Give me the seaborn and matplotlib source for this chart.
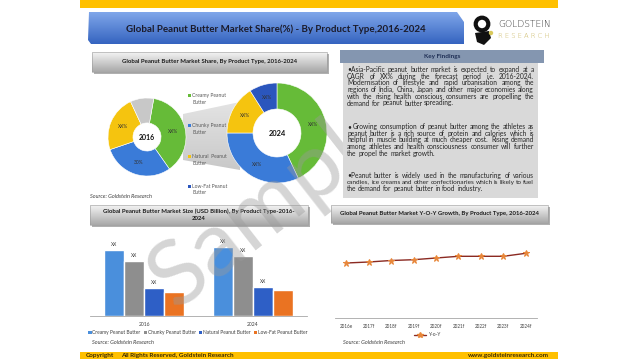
import numpy as np
import pandas as pd
import matplotlib
matplotlib.use("Agg")
import matplotlib.pyplot as plt
from matplotlib.patches import Polygon, Rectangle
from matplotlib.lines import Line2D
import matplotlib.colors as mcolors
import seaborn as sns

sns.set_style("white")
plt.rcParams['font.family'] = ['Lato', 'DejaVu Sans']

# ---------------- data ----------------
types = ["Creamy Peanut Butter", "Chunky Peanut Butter", "Natural Peanut Butter", "Low-Fat Peanut Butter"]
share_2016 = [37.5, 29.5, 23.3, 9.7]
share_2016_labels = ["XX%", "30%", "XX%", ""]
share_2024 = [43.0, 32.0, 16.0, 9.0]
share_2024_labels = ["XX%", "XX%", "XX%", "XX%"]

bar_years = ["2016", "2024"]
size_2016 = [6.6, 5.5, 2.8, 2.4]
size_2024 = [6.9, 6.0, 2.9, 2.6]
bar_labels = ["XX", "XX", "XX", ""]

yoy_years = ["2016e", "2017f", "2018f", "2019f", "2020f", "2021f", "2022f", "2023f", "2024f"]
yoy_values = [5.5, 5.6, 5.75, 5.83, 6.0, 6.17, 6.17, 6.17, 6.47]

title = "Global Peanut Butter Market Share(%) - By Product Type,2016-2024"
donut_title = "Global Peanut Butter Market Share, By Product Type, 2016-2024"
bar_title = ["Global Peanut Butter Market Size (USD Billion), By Product Type-2016-", "2024"]
line_title = "Global Peanut Butter Market Y-O-Y Growth, By Product Type, 2016-2024"
source = "Source: Goldstein Research"

findings = [
    ["\u2022Asia-Pacific peanut butter market is expected to expand at a",
     "CAGR of XX% during the forecast period i.e. 2016-2024.",
     "Modernisation of lifestyle and rapid urbanisation among the",
     "regions of India, China, Japan and other major economies along",
     "with the rising health conscious consumers are propelling the",
     "demand for peanut butter spreading."],
    ["\u2022 Growing consumption of peanut butter among the athletes as",
     "peanut butter is a rich source of protein and calories which is",
     "helpful in muscle building at much cheaper cost. Rising demand",
     "among athletes and health consciousness consumer will further",
     "the propel the market growth."],
    ["\u2022Peanut butter is widely used in the manufacturing of various",
     "candies, ice creams and other confectionaries which is likely to fuel",
     "the demand for peanut butter in food industry."],
]

# ---------------- styles ----------------
W, H = 638, 359
GREEN = "#66bb38"
BLUE = "#3a7bd8"
YELLOW = "#f5c40f"
GRAY = "#c8c8c8"
DKBLUE = "#2b56bd"
donut16_colors = [GREEN, BLUE, YELLOW, GRAY]
donut24_colors = [GREEN, BLUE, YELLOW, DKBLUE]
bar_colors = ["#4a8fdc", "#8e8e8e", "#2e5fc6", "#ea7322"]
legend_colors = [GREEN, BLUE, YELLOW, DKBLUE]

fig = plt.figure(figsize=(W / 100, H / 100), dpi=100)


def fax(x0, y0, x1, y1, z=1):
    a = fig.add_axes([x0 / W, 1 - y1 / H, (x1 - x0) / W, (y1 - y0) / H])
    a.set_zorder(z)
    return a


def overlay(z):
    a = fax(0, 0, W, H, z=z)
    a.set_xlim(0, W)
    a.set_ylim(H, 0)
    a.axis("off")
    a.patch.set_alpha(0)
    return a


bg = overlay(0)


def grad(ax, x0, y0, x1, y1, ctop, cbot, clip=None, z=1):
    c1 = np.array(mcolors.to_rgb(ctop))
    c2 = np.array(mcolors.to_rgb(cbot))
    t = np.linspace(0, 1, 64)
    arr = (c1[None, :] * (1 - t[:, None]) + c2[None, :] * t[:, None])[:, None, :]
    im = ax.imshow(arr, extent=(x0, x1, y1, y0), origin="upper", aspect="auto", zorder=z,
                   interpolation="bilinear")
    if clip is not None:
        p = Polygon(clip, closed=True, transform=ax.transData, facecolor="none", edgecolor="none")
        ax.add_patch(p)
        im.set_clip_path(p)
    ax.set_xlim(0, W)
    ax.set_ylim(H, 0)
    return im


# top & bottom yellow bands
bg.add_patch(Rectangle((80, 0), 478, 7.5, facecolor="#ffc000", edgecolor="none", zorder=1))
bg.add_patch(Rectangle((80, 352), 478, 7, facecolor="#ffc000", edgecolor="none", zorder=1))
bg.text(86, 356, "Copyright", fontsize=4.6, fontweight="bold", color="#3a2a00", va="center", zorder=3)
bg.text(121, 356, "All Rights Reserved, Goldstein Research", fontsize=4.6, fontweight="bold",
        color="#3a2a00", va="center", zorder=3)
bg.text(549, 356, "www.goldsteinresearch.com", fontsize=4.6, fontweight="bold",
        color="#3a2a00", va="center", ha="right", zorder=3)

# title banner
banner = [(89, 12), (457, 12), (464, 22), (464, 44), (91, 44), (88, 40)]
grad(bg, 88, 12, 464, 44, "#7fa6ea", "#3564c0", clip=banner, z=1)
bg.text(276, 29, title, fontsize=7.0, fontweight="bold", color="#1b1b2a", ha="center", va="center", zorder=3)

# logo
bg.add_patch(plt.Circle((482, 24), 6.3, facecolor="none", edgecolor="#111111", linewidth=3.0, zorder=3))
bg.add_patch(Polygon([(475, 33), (489, 31), (491, 38), (484, 45), (477, 42)], closed=True,
                     facecolor="#111111", edgecolor="none", zorder=3))
bg.add_patch(plt.Circle((491, 33), 2.2, facecolor="#d8c85a", edgecolor="none", zorder=4))
bg.text(498, 24.5, "GOLDSTEIN", fontsize=6.6, color="#333333", va="center", ha="left", zorder=3,
        family=["DejaVu Sans"], fontweight="light")
bg.text(498, 35.5, "R E S E A R C H", fontsize=4.9, color="#c8b45a", va="center", ha="left", zorder=3,
        family=["DejaVu Sans"], fontweight="light")


def header(x0, y0, x1, y1, lines, fs=4.3):
    bg.add_patch(Rectangle((x0 + 2, y0 + 2), x1 - x0, y1 - y0, facecolor="#b0b0b0", edgecolor="none", zorder=1))
    grad(bg, x0, y0, x1, y1, "#f4f4f4", "#a8a8a8", clip=[(x0, y0), (x1, y0), (x1, y1), (x0, y1)], z=1.5)
    bg.add_patch(Rectangle((x0, y0), x1 - x0, y1 - y0, facecolor="none", edgecolor="#9a9a9a", linewidth=0.4, zorder=2))
    n = len(lines)
    cy = (y0 + y1) / 2
    for i, l in enumerate(lines):
        bg.text((x0 + x1) / 2, cy + (i - (n - 1) / 2) * 7.5, l, fontsize=fs, fontweight="bold",
                color="#1a1a1a", ha="center", va="center", zorder=3)


header(92, 52, 327, 72, [donut_title])
header(90, 205, 308, 225, bar_title)
header(331, 205, 548, 223, [line_title])

# funnel shape between donuts
grad(bg, 183, 100, 240, 172, "#e4e4e4", "#c8c8c8",
     clip=[(183, 114), (240, 102), (240, 170), (183, 160)], z=1)

# donut legend
leg_y = [(95, 102.5), (125, 132.5), (156, 163.5), (186, 193)]
leg_names = [("Creamy Peanut", "Butter"), ("Chunky Peanut", "Butter"), ("Natural  Peanut", "Butter"),
             ("Low-Fat Peanut", "Butter")]
for (y1_, y2_), (n1, n2), c in zip(leg_y, leg_names, legend_colors):
    bg.add_patch(Rectangle((187.5, y1_ - 1.5), 3, 3, facecolor=c, edgecolor="none", zorder=3))
    bg.text(192.5, y1_, n1, fontsize=3.6, color="#595959", va="center", zorder=3)
    bg.text(192.5, y2_, n2, fontsize=3.6, color="#595959", va="center", zorder=3)

bg.text(90, 197, source, fontsize=4.0, style="italic", color="#404040", va="center", zorder=3)
bg.text(92, 343, source, fontsize=4.0, style="italic", color="#404040", va="center", zorder=3)
bg.text(343, 343, source, fontsize=4.0, style="italic", color="#404040", va="center", zorder=3)


# ---------------- donuts ----------------
def donut(cx, cy, r, vals, cols, labels, start, hole, center_label, fs):
    a = fax(cx - r, cy - r, cx + r, cy + r, z=2)
    wedges, texts = a.pie(vals, colors=cols, startangle=start, counterclock=False, radius=1,
                          labels=labels, labeldistance=(1 + hole) / 2,
                          wedgeprops=dict(width=1 - hole, edgecolor="white", linewidth=0.4),
                          textprops=dict(fontsize=3.5, color="#333333"))
    for t in texts:
        t.set_ha("center")
        t.set_va("center")
    a.set_xlim(-1, 1)
    a.set_ylim(-1, 1)
    a.set_aspect("equal")
    a.text(0, 0, center_label, ha="center", va="center", fontsize=fs, fontweight="bold", color="#111111")
    return a


donut(147, 137, 39, share_2016, donut16_colors, share_2016_labels, 80, 0.36, "2016", 5.0)
donut(277, 133, 50, share_2024, donut24_colors, share_2024_labels, 90, 0.48, "2024", 5.4)

# ---------------- bar chart ----------------
axb = fax(90, 230, 307, 316, z=2)
df = pd.DataFrame({
    "year": [y for y in bar_years for _ in types],
    "type": types * 2,
    "value": size_2016 + size_2024,
})
sns.barplot(data=df, x="year", y="value", hue="type", hue_order=types, palette=bar_colors,
            width=0.74, saturation=1, ax=axb, legend=False, errorbar=None)
for cont, lab in zip(axb.containers, bar_labels):
    axb.bar_label(cont, labels=[lab] * len(cont), fontsize=3.5, color="#404040", padding=2)
axb.set_xlim(-0.5, 1.5)
axb.set_ylim(0, 8.6)
axb.set_xlabel("")
axb.set_ylabel("")
axb.set_yticks([])
axb.patch.set_alpha(0)
for s in ["top", "left", "right"]:
    axb.spines[s].set_visible(False)
axb.spines["bottom"].set_color("#a6a6a6")
axb.spines["bottom"].set_linewidth(0.6)
axb.tick_params(axis="x", length=0, labelsize=3.6, labelcolor="#404040", pad=4)
axb.set_xticks([-0.5, 0.5, 1.5], minor=True)
axb.tick_params(axis="x", which="minor", length=3, width=0.5, color="#a6a6a6")
handles = [Rectangle((0, 0), 1, 1, facecolor=c, edgecolor="none") for c in bar_colors]
fig.legend(handles, types, loc="center", bbox_to_anchor=(198 / W, 1 - 332.5 / H), ncol=4, frameon=False,
           fontsize=3.5, handlelength=0.7, handleheight=0.7, handletextpad=0.2, columnspacing=0.6,
           labelcolor="#404040")

# ---------------- line chart ----------------
axl = fax(335, 230, 537, 318, z=2)
dfl = pd.DataFrame({"year": yoy_years, "yoy": yoy_values, "series": "Y-o-Y"})
sns.lineplot(data=dfl, x="year", y="yoy", ax=axl, color="#8b2a22", linewidth=1.0, marker="*",
             markersize=5, markerfacecolor="#e8873a", markeredgecolor="#e8873a", sort=False)
axl.set_xlim(-0.5, 8.5)
axl.set_ylim(0, 8.8)
axl.set_xlabel("")
axl.set_ylabel("")
axl.set_yticks([])
axl.patch.set_alpha(0)
for s in ["top", "left", "right"]:
    axl.spines[s].set_visible(False)
axl.spines["bottom"].set_color("#a6a6a6")
axl.spines["bottom"].set_linewidth(0.6)
axl.tick_params(axis="x", length=0, labelsize=3.3, labelcolor="#404040", pad=4)
bg.add_line(Line2D([414, 426], [335, 335], color="#8b2a22", linewidth=1.0, zorder=3))
bg.add_line(Line2D([420], [335], color="#e8873a", marker="*", markersize=4, linestyle="none", zorder=3))
bg.text(428, 335, "Y-o-Y", fontsize=3.5, color="#404040", va="center", zorder=3)

# ---------------- watermark (below the findings box) ----------------
wm = overlay(10)
wm.text(276, 200, "Sample", fontsize=66, color="#9a9a9a", alpha=0.42, rotation=38,
        ha="center", va="center", zorder=10)

# ---------------- key findings ----------------
kf = overlay(11)
kf.add_patch(Rectangle((340, 50), 204, 13, facecolor="#8496b0", edgecolor="none", zorder=1))
kf.text(442, 56.5, "Key Findings", fontsize=4.6, fontweight="bold", color="#1f2f55", ha="center", va="center", zorder=3)
kf.add_patch(Rectangle((343, 63), 195, 135, facecolor="#d9d9d9", edgecolor="none", zorder=1))

renderer = fig.canvas.get_renderer()


def tw(ax, s, f):
    t = ax.text(0, 0, s, fontsize=f)
    w = t.get_window_extent(renderer).width
    t.remove()
    return w


def justify(ax, lines, x0, x1, y, lh, fs):
    for li, line in enumerate(lines):
        words = [w for w in line.split(" ") if w != ""]
        last = li == len(lines) - 1
        f = fs
        while True:
            ws = [tw(ax, w, f) for w in words]
            if last or sum(ws) + 1.2 * (len(ws) - 1) <= (x1 - x0) or f < 2.5:
                break
            f -= 0.1
        if last:
            gap = tw(ax, "a a", f) - tw(ax, "aa", f)
        else:
            gap = (x1 - x0 - sum(ws)) / max(len(ws) - 1, 1)
        x = x0
        for w, wd in zip(words, ws):
            ax.text(x, y + li * lh, w, fontsize=f, color="#262626", va="center", ha="left", zorder=3)
            x += wd + gap


ys = [69.5, 126.5, 175.5]
for para, yy in zip(findings, ys):
    justify(kf, para, 347, 534, yy, 6.7, 4.75)

fig.savefig("out.png", dpi=100)
